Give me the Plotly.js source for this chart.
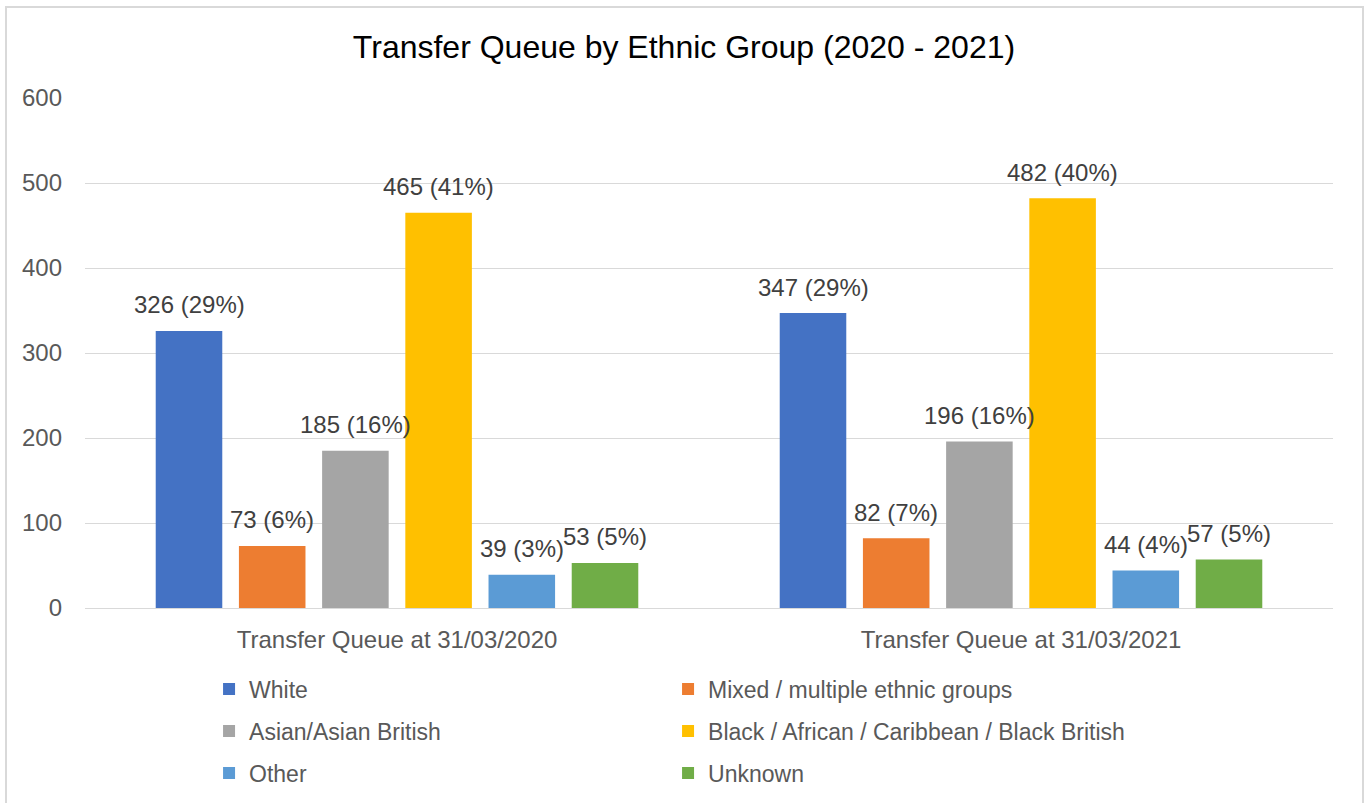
<!DOCTYPE html>
<html>
<head>
<meta charset="utf-8">
<script src="https://cdn.plot.ly/plotly-3.0.1.min.js"></script>
<style>
  html, body { margin: 0; padding: 0; background: #fff; overflow: hidden; }
  #chart { width: 1368px; height: 803px; }
  #frame { position: absolute; left: 5px; top: 6px; width: 1355px; height: 900px;
           border: 2px solid #d9d9d9; pointer-events: none; }
</style>
</head>
<body>
<div id="chart"></div>
<div id="frame"></div>
<script>
const categories = ["Transfer Queue at 31/03/2020", "Transfer Queue at 31/03/2021"];
const groups = ["White", "Mixed / multiple ethnic groups", "Asian/Asian British",
                "Black / African / Caribbean / Black British", "Other", "Unknown"];
const white = [326, 347];
const mixed = [73, 82];
const asian = [185, 196];
const black = [465, 482];
const other = [39, 44];
const unknown = [53, 57];
const whitePct = [29, 29];
const mixedPct = [6, 7];
const asianPct = [16, 16];
const blackPct = [41, 40];
const otherPct = [3, 4];
const unknownPct = [5, 5];
const colors = ["#4472C4", "#ED7D31", "#A5A5A5", "#FFC000", "#5B9BD5", "#70AD47"];

const values = [white, mixed, asian, black, other, unknown];
const pcts = [whitePct, mixedPct, asianPct, blackPct, otherPct, unknownPct];
const legendIds = ["legend", "legend", "legend2", "legend2", "legend3", "legend3"];

const FONT = "Liberation Sans, Arial, sans-serif";
const BARGAP = 0.2;

const traces = groups.map((g, i) => ({
  type: "bar",
  name: g,
  x: categories,
  y: values[i],
  marker: { color: colors[i] },
  legend: legendIds[i],
  hoverinfo: "x+y+name"
}));

// data labels placed above each bar (slot centre within the category group)
const nG = groups.length;
const annotations = [];
values.forEach((vals, i) => {
  const off = -(1 - BARGAP) / 2 + (i + 0.5) * (1 - BARGAP) / nG;
  vals.forEach((v, j) => {
    annotations.push({
      xref: "x", yref: "y",
      x: j + off, y: v,
      text: v + " (" + pcts[i][j] + "%)",
      showarrow: false,
      xanchor: "center", yanchor: "middle",
      yshift: 26,
      font: { family: FONT, size: 24, color: "#404040" }
    });
  });
});

const legendBase = {
  orientation: "h",
  xanchor: "left",
  x: 0.0994,
  yanchor: "middle",
  entrywidth: 414,
  font: { family: FONT, size: 23, color: "#595959" },
  bgcolor: "rgba(0,0,0,0)"
};

const layout = {
  width: 1368,
  height: 803,
  paper_bgcolor: "#ffffff",
  plot_bgcolor: "#ffffff",
  margin: { l: 85, r: 35, t: 98, b: 195, autoexpand: false },
  title: {
    text: "Transfer Queue by Ethnic Group (2020 - 2021)",
    font: { family: FONT, size: 32, color: "#000000" },
    x: 0.5, xref: "container", xanchor: "center",
    y: 1 - 47 / 803, yref: "container", yanchor: "middle"
  },
  barmode: "group",
  bargap: BARGAP,
  bargroupgap: 0.2,
  xaxis: {
    type: "category", automargin: false,
    showline: true, linecolor: "#d9d9d9", linewidth: 1,
    ticks: "", showgrid: false,
    tickfont: { family: FONT, size: 24, color: "#595959" },
    ticklabelstandoff: 10
  },
  yaxis: {
    range: [0, 600], dtick: 100, tick0: 0, automargin: false,
    showgrid: true, gridcolor: "#d9d9d9", gridwidth: 1,
    zeroline: false, showline: false, ticks: "",
    tickfont: { family: FONT, size: 24, color: "#595959" },
    ticklabelstandoff: 22
  },
  annotations: annotations,
  legend: Object.assign({}, legendBase, { y: -81 / 510 }),
  legend2: Object.assign({}, legendBase, { y: -123 / 510 }),
  legend3: Object.assign({}, legendBase, { y: -165 / 510 }),
  showlegend: true
};

Plotly.newPlot("chart", traces, layout, { displayModeBar: false, staticPlot: true });
</script>
</body>
</html>
